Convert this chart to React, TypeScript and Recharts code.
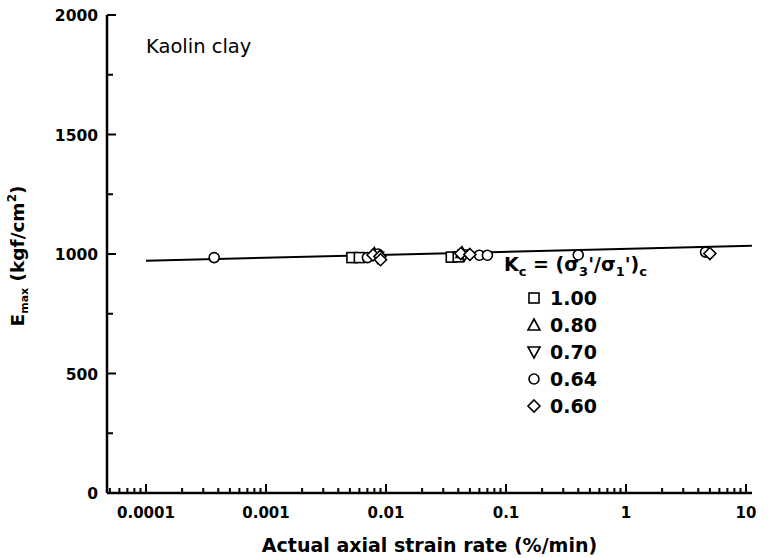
import React from 'react'
import { ScatterChart, Scatter, XAxis, YAxis } from 'recharts'

// strain rate (%/min) and Emax (kgf/cm2)
const sq100 = [
	{ x: 0.0052, y: 985 },
	{ x: 0.006, y: 985 },
	{ x: 0.035, y: 987 },
	{ x: 0.04, y: 988 },
]
const tri080 = [
	{ x: 0.008, y: 1002 },
	{ x: 0.043, y: 1006 },
]
const inv070 = [
	{ x: 0.0085, y: 986 },
	{ x: 0.045, y: 996 },
]
const circ064 = [
	{ x: 0.00037, y: 985 },
	{ x: 0.007, y: 985 },
	{ x: 0.0086, y: 1000 },
	{ x: 0.06, y: 995 },
	{ x: 0.07, y: 995 },
	{ x: 0.4, y: 996 },
	{ x: 4.6, y: 1008 },
]
const dia060 = [
	{ x: 0.0078, y: 996 },
	{ x: 0.0089, y: 990 },
	{ x: 0.009, y: 976 },
	{ x: 0.042, y: 1002 },
	{ x: 0.05, y: 998 },
	{ x: 5.0, y: 1002 },
]
const fitLine = [
	{ x: 0.0001, y: 972 },
	{ x: 11.2, y: 1034 },
]

const X_MAJOR = [0.0001, 0.001, 0.01, 0.1, 1, 10]
const X_LABELS = ['0.0001', '0.001', '0.01', '0.1', '1', '10']
const X_MINOR_MULT = [2, 3, 4, 5, 6, 7, 8, 9]
const Y_MAJOR = [0, 500, 1000, 1500, 2000]
const Y_MINOR = [250, 750, 1250, 1750]

const xTicks = [
	...[5e-5, 6e-5, 7e-5, 8e-5, 9e-5],
	...X_MAJOR,
	...X_MAJOR.slice(0, 5).flatMap(d => X_MINOR_MULT.map(m => +(m * d).toPrecision(3))),
]
const yTicks = [...Y_MAJOR, ...Y_MINOR].sort((a, b) => a - b)

const FONT = '"DejaVu Sans", "Liberation Sans", Arial, sans-serif'
const XDOMAIN = [Math.pow(10, -4.325), Math.pow(10, 1.05)]

function isMajorX(v: number) {
	return X_MAJOR.some(m => Math.abs(v - m) / m < 1e-6)
}

function BottomTick(props: any) {
	const { x, y, payload } = props
	const v = payload.value
	const major = isMajorX(v)
	const idx = X_MAJOR.findIndex(m => Math.abs(v - m) / m < 1e-6)
	return (
		<g>
			<line x1={x} x2={x} y1={y} y2={y - (major ? 9 : 5)} stroke='#000' strokeWidth={2} />
			{major && (
				<text x={x} y={y + 25} textAnchor='middle' fontSize={15} fontWeight='bold' fontFamily={FONT} fill='#000'>
					{X_LABELS[idx]}
				</text>
			)}
		</g>
	)
}

function TopTick(props: any) {
	const { x, y, payload } = props
	const major = isMajorX(payload.value)
	return <line x1={x} x2={x} y1={y} y2={y + (major ? 9 : 5)} stroke='#000' strokeWidth={2} />
}

function LeftTick(props: any) {
	const { x, y, payload } = props
	const major = Y_MAJOR.includes(payload.value)
	return (
		<g>
			<line x1={x} x2={x + (major ? 9 : 6)} y1={y} y2={y} stroke='#000' strokeWidth={2} />
			{major && (
				<text x={x - 9} y={y + 6} textAnchor='end' fontSize={15.5} fontWeight='bold' fontFamily={FONT} fill='#000'>
					{payload.value}
				</text>
			)}
		</g>
	)
}

function RightTick(props: any) {
	const { x, y, payload } = props
	const major = Y_MAJOR.includes(payload.value)
	return <line x1={x} x2={x - (major ? 9 : 6)} y1={y} y2={y} stroke='#000' strokeWidth={2} />
}

const mk = { fill: '#fff', stroke: '#000', strokeWidth: 1.6 }

const Square = (p: any) => <rect x={p.cx - 5} y={p.cy - 5} width={10} height={10} {...mk} />
const Triangle = (p: any) => (
	<polygon points={`${p.cx},${p.cy - 6} ${p.cx + 6},${p.cy + 5} ${p.cx - 6},${p.cy + 5}`} {...mk} />
)
const InvTriangle = (p: any) => (
	<polygon points={`${p.cx},${p.cy + 6} ${p.cx + 6},${p.cy - 5} ${p.cx - 6},${p.cy - 5}`} {...mk} />
)
const Circle = (p: any) => <circle cx={p.cx} cy={p.cy} r={5} {...mk} />
const Diamond = (p: any) => (
	<polygon points={`${p.cx},${p.cy - 6} ${p.cx + 6},${p.cy} ${p.cx},${p.cy + 6} ${p.cx - 6},${p.cy}`} {...mk} />
)
const NoDot = () => <g />

const LEGEND = [
	{ label: '1.00', shape: Square },
	{ label: '0.80', shape: Triangle },
	{ label: '0.70', shape: InvTriangle },
	{ label: '0.64', shape: Circle },
	{ label: '0.60', shape: Diamond },
]

function LegendBox() {
	const sub = { fontSize: 13, verticalAlign: 'sub' as const }
	return (
		<div
			style={{
				position: 'absolute',
				left: 504,
				top: 251,
				fontFamily: FONT,
				fontWeight: 'bold',
				fontSize: 19,
				color: '#000',
				lineHeight: '27px',
			}}
		>
			<div style={{ marginBottom: 0 }}>
				K<span style={sub}>c</span> = (σ<span style={sub}>3</span>'/σ<span style={sub}>1</span>')<span style={sub}>c</span>
			</div>
			{LEGEND.map(l => (
				<div key={l.label} style={{ display: 'flex', alignItems: 'center', paddingLeft: 22 }}>
					<svg width={16} height={16} style={{ marginRight: 8 }}>
						{l.shape({ cx: 8, cy: 8 })}
					</svg>
					<span>{l.label}</span>
				</div>
			))}
		</div>
	)
}

function YLabel() {
	const cx = 24
	const cy = 256
	return (
		<text
			transform={`rotate(-90, ${cx}, ${cy})`}
			x={cx}
			y={cy}
			textAnchor='middle'
			fontSize={18.5}
			fontWeight='bold'
			fontFamily={FONT}
			fill='#000'
		>
			E
			<tspan fontSize={11} dy={4}>max</tspan>
			<tspan dy={-4}> (kgf/cm</tspan>
			<tspan fontSize={12} dy={-8}>2</tspan>
			<tspan dy={8}>)</tspan>
		</text>
	)
}

export default function App() {
	return (
		<div style={{ position: 'absolute', left: 0, top: 0, width: 768, height: 558, background: '#fff' }}>
			<ScatterChart width={768} height={558} margin={{ top: 15, right: 16, bottom: 0, left: 0 }}>
				<XAxis
					xAxisId='b'
					type='number'
					dataKey='x'
					scale='log'
					domain={XDOMAIN}
					allowDataOverflow
					ticks={xTicks}
					interval={0}
					height={65}
					tickSize={0}
					tickMargin={0}
					axisLine={{ stroke: '#000', strokeWidth: 2.5 }}
					tickLine={false}
					tick={<BottomTick />}
					label={{
						value: 'Actual axial strain rate (%/min)',
						position: 'insideBottom',
						offset: 6,
						style: { fontFamily: FONT, fontWeight: 'bold', fontSize: 19, fill: '#000' },
					}}
				/>
				<XAxis
					xAxisId='t'
					orientation='top'
					type='number'
					dataKey='x'
					scale='log'
					domain={XDOMAIN}
					allowDataOverflow
					ticks={xTicks}
					interval={0}
					height={0}
					tickSize={0}
					tickMargin={0}
					axisLine={{ stroke: '#000', strokeWidth: 2.5 }}
					tickLine={false}
					tick={<TopTick />}
				/>
				<YAxis
					yAxisId='l'
					type='number'
					dataKey='y'
					domain={[0, 2000]}
					ticks={yTicks}
					interval={0}
					width={107}
					tickSize={0}
					tickMargin={0}
					axisLine={{ stroke: '#000', strokeWidth: 2.5 }}
					tickLine={false}
					tick={<LeftTick />}
					label={{ content: <YLabel /> }}
				/>
				<YAxis
					yAxisId='r'
					orientation='right'
					type='number'
					dataKey='y'
					domain={[0, 2000]}
					ticks={yTicks}
					interval={0}
					width={0}
					tickSize={0}
					tickMargin={0}
					axisLine={{ stroke: '#000', strokeWidth: 2.5 }}
					tickLine={false}
					tick={<RightTick />}
				/>
				<Scatter
					xAxisId='b'
					yAxisId='l'
					data={fitLine}
					line={{ stroke: '#000', strokeWidth: 2 }}
					shape={<NoDot />}
					legendType='none'
					isAnimationActive={false}
				/>
				<Scatter xAxisId='b' yAxisId='l' name='1.00' data={sq100} shape={<Square />} isAnimationActive={false} />
				<Scatter xAxisId='b' yAxisId='l' name='0.80' data={tri080} shape={<Triangle />} isAnimationActive={false} />
				<Scatter xAxisId='b' yAxisId='l' name='0.70' data={inv070} shape={<InvTriangle />} isAnimationActive={false} />
				<Scatter xAxisId='b' yAxisId='l' name='0.64' data={circ064} shape={<Circle />} isAnimationActive={false} />
				<Scatter xAxisId='b' yAxisId='l' name='0.60' data={dia060} shape={<Diamond />} isAnimationActive={false} />
			</ScatterChart>
			<LegendBox />
			<div
				style={{
					position: 'absolute',
					left: 146,
					top: 35,
					fontFamily: FONT,
					fontSize: 19.5,
					color: '#000',
				}}
			>
				Kaolin clay
			</div>
		</div>
	)
}
